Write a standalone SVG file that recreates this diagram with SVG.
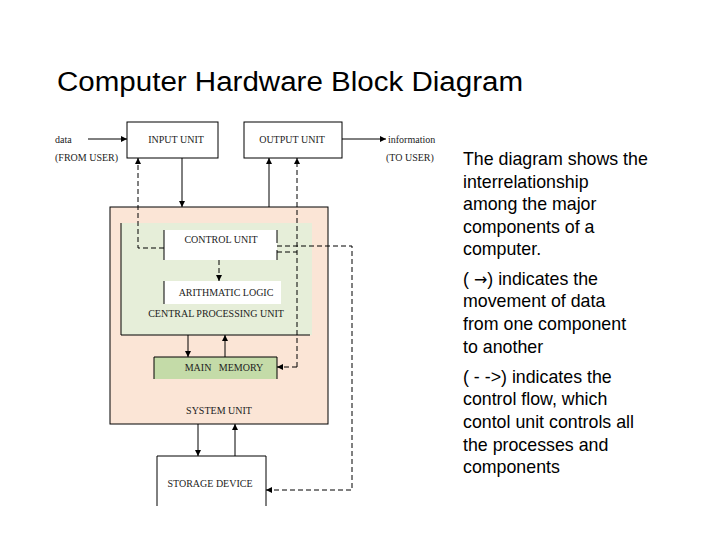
<svg xmlns="http://www.w3.org/2000/svg" width="720" height="540" viewBox="0 0 720 540">
<style>
.s{font-family:"Liberation Serif",serif;font-size:10px;fill:#222}
.r{font-family:"Liberation Sans",sans-serif;font-size:17.8px;fill:#000}
.b{fill:#fff;stroke:#000;stroke-width:1}
.l{stroke:#000;stroke-width:1;fill:none}
.d{stroke:#000;stroke-width:1;fill:none;stroke-dasharray:5,3}
</style>
<defs><marker id="a" viewBox="0 0 6 6" refX="6" refY="3" markerWidth="6" markerHeight="6" orient="auto"><path d="M0,0L6,3L0,6z" fill="#000"/></marker></defs>
<rect width="720" height="540" fill="#fff"/>
<text x="57" y="91" font-family="Liberation Sans,sans-serif" font-size="27" textLength="466" lengthAdjust="spacingAndGlyphs">Computer Hardware Block Diagram</text>
<g id="system"><rect x="110" y="207" width="218" height="217" fill="#fbe5d6" stroke="#000"/><text class="s" x="219" y="414" text-anchor="middle">SYSTEM UNIT</text></g>
<g id="cpu"><rect x="121" y="223" width="191" height="112" fill="#e6eed9"/><path class="l" d="M121,223V335H310"/><text class="s" x="216" y="317" text-anchor="middle">CENTRAL PROCESSING UNIT</text></g>
<g id="input"><rect class="b" x="127" y="122" width="91" height="36"/><text class="s" x="176" y="143" text-anchor="middle">INPUT UNIT</text></g>
<g id="output"><rect class="b" x="244" y="122" width="98" height="36"/><text class="s" x="292" y="143" text-anchor="middle">OUTPUT UNIT</text></g>
<g id="control"><rect x="164" y="230" width="113" height="30" fill="#fff"/><path class="l" d="M164,230V260M277,230V243M277,250V260"/><text class="s" x="221" y="243" text-anchor="middle">CONTROL UNIT</text></g>
<g id="alu"><rect x="164" y="281" width="117" height="23" fill="#fff"/><path class="l" d="M164,281V304"/><text class="s" x="226" y="296" text-anchor="middle">ARITHMATIC LOGIC</text></g>
<g id="memory"><rect x="154" y="357" width="123" height="22" fill="#c4dba8"/><path class="l" d="M154,357H277V379M154,357V379"/><text class="s" x="224" y="371" text-anchor="middle" xml:space="preserve">MAIN   MEMORY</text></g>
<g id="storage"><path class="b" d="M157,506V456H266V506"/><text class="s" x="210" y="487" text-anchor="middle">STORAGE DEVICE</text></g>
<g id="labels"><text class="s" x="55" y="143">data</text><text class="s" x="55" y="161">(FROM USER)</text><text class="s" x="388" y="143">information</text><text class="s" x="386" y="161">(TO USER)</text></g>
<g id="connectors">
<path class="l" d="M88,139H127" marker-end="url(#a)"/>
<path class="l" d="M342,139H386" marker-end="url(#a)"/>
<path class="l" d="M182,158V207" marker-end="url(#a)"/>
<path class="l" d="M269,207V158" marker-end="url(#a)"/>
<path class="d" d="M164,248H138V158" marker-end="url(#a)"/>
<path class="d" d="M219,260V281" marker-end="url(#a)"/>
<path class="d" d="M277,252H297"/>
<path class="d" d="M297,367V158" marker-end="url(#a)"/>
<path class="d" d="M297,367H277" marker-end="url(#a)"/>
<path class="d" d="M277,246H352V490H266" marker-end="url(#a)"/>
<path class="l" stroke="#999" d="M188,335V357" marker-end="url(#a)"/>
<path class="l" d="M225,357V335" marker-end="url(#a)"/>
<path class="l" d="M198,424V456" marker-end="url(#a)"/>
<path class="l" d="M235,456V424" marker-end="url(#a)"/>
</g>
<g id="desc" class="r">
<text x="463" y="165">The diagram shows the</text>
<text x="463" y="188">interrelationship</text>
<text x="463" y="210">among the major</text>
<text x="463" y="233">components of a</text>
<text x="463" y="255">computer.</text>
<text x="463" y="285">( <tspan font-family="DejaVu Sans,sans-serif" font-size="16">→</tspan>) indicates the</text>
<text x="463" y="307">movement of data</text>
<text x="463" y="330">from one component</text>
<text x="463" y="353">to another</text>
<text x="463" y="383">( - -&gt;) indicates the</text>
<text x="463" y="405">control flow, which</text>
<text x="463" y="428">contol unit controls all</text>
<text x="463" y="451">the processes and</text>
<text x="463" y="473">components</text>
</g>
</svg>
